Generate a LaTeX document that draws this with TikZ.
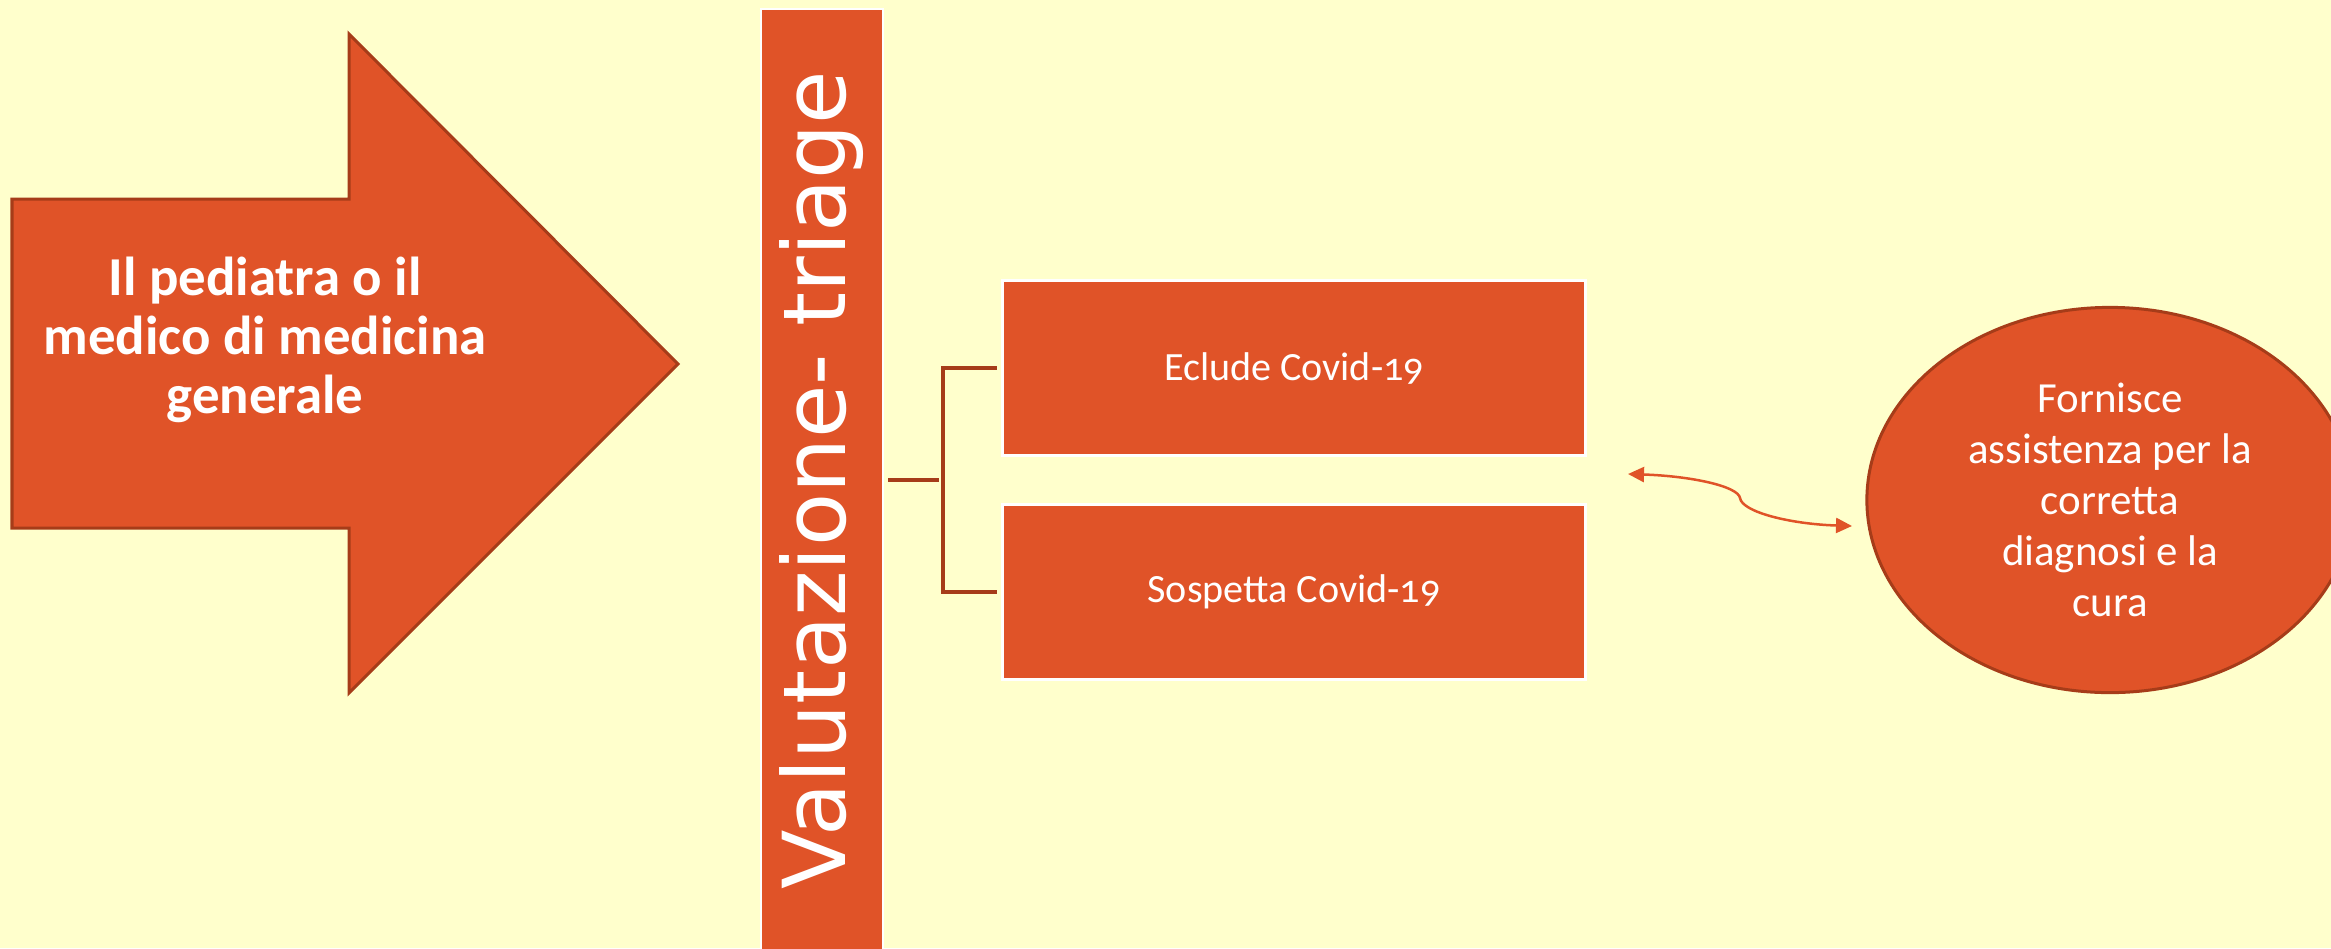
\documentclass[tikz,border=0pt]{standalone}
\usepackage{fontspec}
\setmainfont{Carlito}[Numbers=OldStyle]
\newfontfamily\triagefont{DejaVu Sans}
\usepackage{xcolor}
\usepackage{tikz}
\usetikzlibrary{
	arrows.meta,
	calc,
	positioning,
	shapes.geometric
}
\definecolor{cream}{RGB}{255, 255, 204}
\definecolor{orange}{RGB}{224, 83, 40}
\definecolor{rust}{RGB}{166, 60, 25}
\tikzstyle{every picture}+=[>={Triangle[length=0.16cm,width=0.15cm]}]

\begin{document}
\begin{tikzpicture}[x=0.01cm, y=-0.01cm,
	box/.style={draw=white, line width=0.03cm, fill=orange, text=white,
		minimum width=5.83cm, minimum height=1.74cm, inner sep=0pt,
		font=\fontsize{11.4}{13.7}\selectfont},
	bar/.style={draw=white, line width=0.02cm, fill=orange, text=white,
		rotate=90, minimum width=9.42cm, minimum height=1.22cm, inner sep=0pt,
		font=\triagefont\fontsize{24.7}{29}\selectfont},
	bracket/.style={draw=rust, line width=0.04cm, shorten <=0.04cm, shorten >=0.04cm},
	feedback/.style={draw=orange, line width=0.025cm},
	helper/.style={ellipse, draw=rust, line width=0.03cm, fill=orange, text=white,
		minimum width=4.86cm, minimum height=3.85cm, inner sep=0pt, align=center,
		font=\fontsize{12.2}{14.5}\selectfont},
	caller/.style={text=white, align=center, inner sep=0pt,
		font=\bfseries\fontsize{15.6}{16.7}\selectfont}
]

	% Background
		\fill[cream] (0,0) rectangle (2331,948);
		\useasboundingbox (0,0) rectangle (2331,948);

	% Big arrow
		\draw[fill=orange, draw=rust, line width=0.03cm]
			(12,199) -- (349,199) -- (349,34) -- (678,364)
			-- (349,693) -- (349,528) -- (12,528) -- cycle;
		\node[caller] (pediatra) at (265,340) {Il pediatra o il\\medico di medicina\\generale};

	% Triage bar
		\node[bar] (triage) at (822,480) {Valutazione- triage};

	% Boxes
		\node[box] (eclude) at (1294,368) {Eclude Covid-19};
		\node[box] (sospetta) at (1294,592) {Sospetta Covid-19};

	% Bracket
		\coordinate (fork) at (943,480);
		\draw[bracket] (triage.south |- fork) -- (fork);
		\draw[bracket] (eclude.west) -| (fork) |- (sospetta.west);

	% Ellipse
		\node[helper] (assist) at (2110,500) {Fornisce\\assistenza per la\\corretta\\diagnosi e la\\cura};

	% Double arrow
		\coordinate (back) at (1628,474);
		\coordinate (forth) at (1852,526);
		\draw[<->, feedback] (back) .. controls (1690,476) and (1738,486) .. (1740,498)
			.. controls (1742,512) and (1790,524) .. (forth);
\end{tikzpicture}
\end{document}
